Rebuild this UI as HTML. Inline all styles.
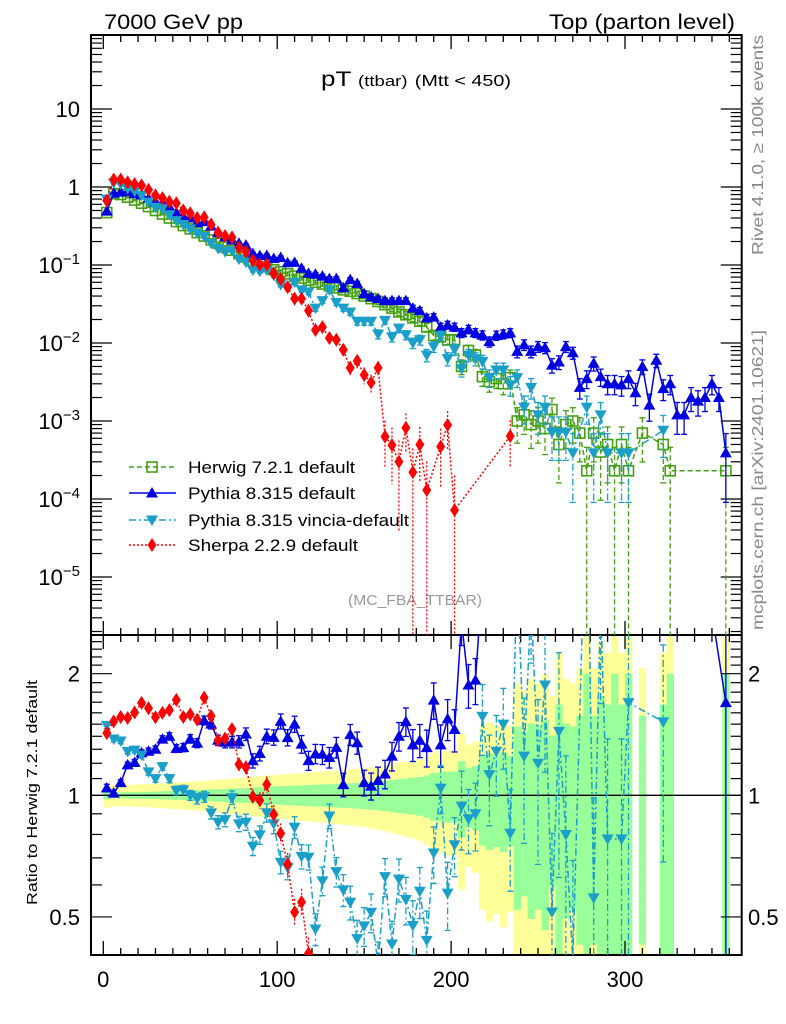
<!DOCTYPE html>
<html><head><meta charset="utf-8"><style>
html,body{margin:0;padding:0;background:#fff;overflow:hidden;width:786px;height:1024px;}
svg{display:block;font-family:"Liberation Sans",sans-serif;}
</style></head><body>
<svg id="chart" width="786" height="1024" viewBox="0 0 786 1024" xmlns="http://www.w3.org/2000/svg">
<defs>
<clipPath id="clipMain"><rect x="91" y="35" width="651" height="600"/></clipPath>
<clipPath id="clipRatio"><rect x="91" y="635" width="651" height="320"/></clipPath>
</defs>
<text x="104" y="29" font-size="21" textLength="139" lengthAdjust="spacingAndGlyphs">7000 GeV pp</text>
<text x="549" y="29" font-size="21" textLength="186" lengthAdjust="spacingAndGlyphs">Top (parton level)</text>
<text x="321" y="86" font-size="21" textLength="190" lengthAdjust="spacingAndGlyphs">pT <tspan font-size="15">(ttbar)</tspan> <tspan font-size="16">(Mtt &lt; 450)</tspan></text>
<text x="348" y="605" font-size="15" fill="#999" textLength="134" lengthAdjust="spacingAndGlyphs">(MC_FBA_TTBAR)</text>
<text transform="translate(763,255) rotate(-90)" font-size="16" fill="#888" textLength="220" lengthAdjust="spacingAndGlyphs">Rivet 4.1.0, ≥ 100k events</text>
<text transform="translate(763,630) rotate(-90)" font-size="16" fill="#888" textLength="300" lengthAdjust="spacingAndGlyphs">mcplots.cern.ch [arXiv:2401.10621]</text>
<text transform="translate(37,905) rotate(-90)" font-size="15" textLength="225" lengthAdjust="spacingAndGlyphs">Ratio to Herwig 7.2.1 default</text>
<g id="bands" clip-path="url(#clipRatio)"></g>
<g id="axes"></g>
<g id="mainData" clip-path="url(#clipMain)"></g>
<g id="ratioData" clip-path="url(#clipRatio)"></g>
<g id="legend"></g>
</svg>
<script>
// ---- data (4 GeV bins, 0..360) ----
const binWidth = 4;
const nBins = 90;
const herwig = [0.47,0.82,0.80,0.74,0.68,0.62,0.56,0.50,0.45,0.40,0.36,0.32,0.29,0.26,0.235,0.21,0.19,0.17,0.155,0.14,0.127,0.115,0.104,0.095,0.087,0.082,0.077,0.072,0.068,0.064,0.060,0.057,0.054,0.051,0.048,0.046,0.043,0.040,0.037,0.034,0.031,0.028,0.025,0.023,0.021,0.019,0.016,0.0125,0.012,0.011,0.011,0.005,0.008,0.007,0.0037,0.0032,0.0035,0.003,0.0036,0.001,0.0012,0.0009,0.001,0.0008,0.0014,0.0005,0.0009,0.001,0.0007,0.00023,0.0007,0.0004,0.0005,0.00023,0.0005,0.00023,0,0.0007,0,0,0.0005,0.00023,0,0,0,0,0,0,0,0.00023];
const pythia = [0.49,0.83,0.86,0.88,0.82,0.79,0.72,0.65,0.62,0.56,0.47,0.42,0.40,0.35,0.36,0.315,0.26,0.23,0.21,0.19,0.18,0.14,0.132,0.133,0.121,0.125,0.107,0.108,0.091,0.078,0.076,0.072,0.067,0.067,0.051,0.065,0.058,0.043,0.039,0.037,0.035,0.035,0.035,0.035,0.028,0.026,0.021,0.0215,0.016,0.017,0.016,0.0135,0.015,0.0135,0.0126,0.0104,0.0125,0.013,0.0135,0.0078,0.0095,0.0078,0.009,0.0087,0.0052,0.0057,0.009,0.0075,0.0027,0.0035,0.0055,0.0037,0.003,0.003,0.0029,0.0035,0.0023,0.005,0.0016,0.006,0.0026,0.003,0.0012,0.0012,0.002,0.0018,0.002,0.003,0.002,0.00039];
const vincia = [0.70,1.13,1.09,0.95,0.88,0.78,0.64,0.55,0.53,0.44,0.37,0.33,0.29,0.255,0.233,0.19,0.163,0.148,0.153,0.119,0.109,0.086,0.083,0.086,0.074,0.056,0.051,0.060,0.048,0.045,0.028,0.035,0.048,0.033,0.028,0.025,0.019,0.019,0.019,0.013,0.0195,0.012,0.0155,0.0127,0.010,0.011,0.007,0.009,0.0125,0.0063,0.0083,0.0047,0.007,0.0063,0.0058,0.0036,0.0045,0.0045,0.0029,0.0036,0.0015,0.0027,0.0012,0.0015,0.00072,0.00072,0.00072,0.00039,0,0.0015,0.00039,0.0012,0.00039,0,0.00039,0.00039,0,0,0,0,0.00076,0,0,0,0,0,0,0,0,0];
const sherpa = [0.67,1.25,1.25,1.15,1.09,1.05,0.92,0.78,0.72,0.65,0.62,0.50,0.46,0.40,0.41,0.33,0.26,0.235,0.226,0.167,0.149,0.114,0.101,0.101,0.078,0.066,0.052,0.037,0.037,0.026,0.0147,0.016,0.0116,0.011,0.0082,0.0048,0.0059,0.0039,0.0031,0.0048,0.00063,0.00049,0.0003,0.00082,0.00022,0.0005,0.00013,0,0.00047,0.00089,0.000072,0,0,0,0,0,0,0,0.00064,0,0,0,0,0,0,0,0,0,0,0,0,0,0,0,0,0,0,0,0,0,0,0,0,0,0,0,0,0,0,0];
const xTickLabels = [0,100,200,300];
const mainTickExps = [1,0,-1,-2,-3,-4,-5];
const ratioTickLabels = [2,1,0.5];
const kErr = 2.3e-4;
const yellowScale = 1.8, yellowOffset = 0.03;

// ---- axis functions ----
const X0 = 91, X1 = 741.7, MT = 35, MB = 635, RB = 955;
function xs(v){ return 103.3 + 1.739*v; }
function ym(v){ return Math.min(187 - 78*Math.log10(v), MB+40); }
function yr(r){ return Math.max(0, Math.min(795.3 - 404*Math.log10(r), RB+60)); }
function center(i){ return binWidth*(i+0.5); }
function relErr(v){ return Math.sqrt(kErr/v); }

const NS='http://www.w3.org/2000/svg';
function mk(tag, parent){ const e=document.createElementNS(NS,tag); parent.appendChild(e); return e; }
function line(p,x1,y1,x2,y2,stroke,w,dash){ const l=mk('line',p); l.setAttribute('x1',x1); l.setAttribute('y1',y1); l.setAttribute('x2',x2); l.setAttribute('y2',y2); l.setAttribute('stroke',stroke); l.setAttribute('stroke-width',w||1); if(dash) l.setAttribute('stroke-dasharray',dash); return l; }

// ---- bands ----
const bands = document.getElementById('bands');
for (let i=0;i<nBins;i++){
  if (!(herwig[i]>0)) continue;
  const e = relErr(herwig[i]);
  const xa = xs(binWidth*i), xb = xs(binWidth*(i+1));
  const eo = e*yellowScale + yellowOffset;
  const ry = mk('rect',bands);
  
  
  const yt = Math.max(yr(1+eo),MB), yb = (1-eo)>0.01 ? Math.min(yr(1-eo),RB) : RB;
  ry.setAttribute('x',xa); ry.setAttribute('width',xb-xa+0.3); ry.setAttribute('y',yt); ry.setAttribute('height',Math.max(0,yb-yt)); ry.setAttribute('fill','#ffff99');
}
for (let i=0;i<nBins;i++){
  if (!(herwig[i]>0)) continue;
  const e = relErr(herwig[i]);
  const xa = xs(binWidth*i), xb = xs(binWidth*(i+1));
  const rg = mk('rect',bands);
  
  
  const yt = Math.max(yr(1+e),MB), yb = (1-e)>0.01 ? Math.min(yr(1-e),RB) : RB;
  rg.setAttribute('x',xa); rg.setAttribute('width',xb-xa+0.3); rg.setAttribute('y',yt); rg.setAttribute('height',Math.max(0,yb-yt)); rg.setAttribute('fill','#99ff99');
}

// ---- axes ----
const axes = document.getElementById('axes');
const frameM = mk('rect',axes);


frameM.setAttribute('x',X0); frameM.setAttribute('y',MT); frameM.setAttribute('width',X1-X0); frameM.setAttribute('height',MB-MT); frameM.setAttribute('fill','none'); frameM.setAttribute('stroke','#000'); frameM.setAttribute('stroke-width','2');
const frameR = mk('rect',axes);


frameR.setAttribute('x',X0); frameR.setAttribute('y',MB); frameR.setAttribute('width',X1-X0); frameR.setAttribute('height',RB-MB); frameR.setAttribute('fill','none'); frameR.setAttribute('stroke','#000'); frameR.setAttribute('stroke-width','2');
const oneLine = line(axes,X0,yr(1),X1,yr(1),'#000',1.3);


for (let v=0; v<=360; v+=10){
  const x = xs(v), major = (v%100===0);
  const L = major?14:7;
  line(axes,x,RB,x,RB-L,'#000',1.3);
  line(axes,x,MB,x,MB-L,'#000',1.3);
  line(axes,x,MB,x,MB+L,'#000',1.3);
  line(axes,x,MT,x,MT+L,'#000',1.3);
}
xTickLabels.forEach(v=>{
  const t = mk('text',axes);
  
  
  t.setAttribute('x',xs(v)); t.setAttribute('y',987); t.setAttribute('font-size','22'); t.setAttribute('text-anchor','middle');
  t.textContent = String(v);
});
for (let e=-6; e<=1; e++){
  for (let m=1; m<=9; m++){
    const y = 187 - 78*Math.log10(m*Math.pow(10,e));
    if (y<MT || y>MB) continue;
    const L = m===1?21:11;
    line(axes,X0,y,X0+L,y,'#000',1.2);
    line(axes,X1,y,X1-L,y,'#000',1.2);
  }
}
mainTickExps.forEach(e=>{
  const t = mk('text',axes);
  
  
  t.setAttribute('x',80); t.setAttribute('y',ym(Math.pow(10,e))+8); t.setAttribute('font-size','22'); t.setAttribute('text-anchor','end');
  if (e===1) t.textContent='10';
  else if (e===0) t.textContent='1';
  else { t.textContent='10'; const s=mk('tspan',t); s.setAttribute('font-size','15'); s.setAttribute('dy','-9'); s.textContent='\u2212'+(-e); }
});
for (let r=0.4; r<=2.55; r+=0.1){
  const rr = Math.round(r*10)/10;
  const y = 795.3 - 404*Math.log10(rr);
  if (y<MB || y>RB) continue;
  const major = (rr===0.5||rr===1||rr===2);
  const L = major?21:11;
  line(axes,X0,y,X0+L,y,'#000',1.2);
  line(axes,X1,y,X1-L,y,'#000',1.2);
}
ratioTickLabels.forEach(r=>{
  const t = mk('text',axes);
  
  
  t.setAttribute('x',80); t.setAttribute('y',yr(r)+8); t.setAttribute('font-size','22'); t.setAttribute('text-anchor','end');
  t.textContent = String(r);
  const t2 = mk('text',axes);
  
  
  t2.setAttribute('x',748); t2.setAttribute('y',yr(r)+8); t2.setAttribute('font-size','22');
  t2.textContent = String(r);
});

// ---- series ----
const series = [
  {name:'herwig', vals:herwig, color:'#44a010', dash:'5,3', marker:'square', ratio:false},
  {name:'pythia', vals:pythia, color:'#0000e0', dash:null, marker:'up', ratio:true},
  {name:'vincia', vals:vincia, color:'#1a9fc9', dash:'7,3,2,3', marker:'down', ratio:true},
  {name:'sherpa', vals:sherpa, color:'#ff0000', dash:'2,2', marker:'diamond', ratio:true}
];
function marker(p,type,x,y,color){
  let m;
  if (type==='square'){
    m = mk('rect',p); m.setAttribute('x',x-5); m.setAttribute('y',y-5); m.setAttribute('width',10); m.setAttribute('height',10);
    m.setAttribute('fill','none'); m.setAttribute('stroke',color); m.setAttribute('stroke-width','1.6');
  } else {
    m = mk('polygon',p);
    let pts;
    if (type==='up') pts=[[x,y-6],[x-6,y+4.5],[x+6,y+4.5]];
    else if (type==='down') pts=[[x,y+6],[x-6,y-4.5],[x+6,y-4.5]];
    else pts=[[x,y-7],[x+4.5,y],[x,y+7],[x-4.5,y]];
    m.setAttribute('points',pts.map(a=>a.join(',')).join(' '));
    m.setAttribute('fill',color);
  }
  return m;
}
function drawSeries(group, s, getY, getVal, errFn, top, bottom){
  const pts=[];
  for (let i=0;i<nBins;i++){ const v=getVal(i); if (v>0) pts.push([i,v]); }
  pts.forEach(([i,v])=>{
    const e = errFn(i,v);
    const x = xs(center(i));
    const yt = Math.max(getY(v*(1+e)),top-2);
    const yb = (1-e)>0.001 ? Math.min(getY(v*(1-e)),bottom+2) : bottom+2;
    const b = line(group,x,yt,x,yb,s.color,1.3,s.dash);
    
    
    if (s.name!=='sherpa'){ line(group,x-3,yt,x+3,yt,s.color,1.3); if (yb<bottom) line(group,x-3,yb,x+3,yb,s.color,1.3); }
  });
  const pl = mk('polyline',group);
  
  
  pl.setAttribute('points',pts.map(([i,v])=>xs(center(i))+','+getY(v)).join(' '));
  pl.setAttribute('fill','none'); pl.setAttribute('stroke',s.color); pl.setAttribute('stroke-width','1.5');
  if (s.dash) pl.setAttribute('stroke-dasharray',s.dash);
  pts.forEach(([i,v])=>{
    const m = marker(group,s.marker,xs(center(i)),getY(v),s.color);
    
    
  });
}
const mainG = document.getElementById('mainData');
const ratioG = document.getElementById('ratioData');
series.forEach(s=>{
  const g = mk('g',mainG);
  
  
  drawSeries(g,s,ym,i=>s.vals[i],(i,v)=>relErr(v),MT,MB);
});
series.filter(s=>s.ratio).forEach(s=>{
  const g = mk('g',ratioG);
  
  
  drawSeries(g,s,yr,i=>(herwig[i]>0 && s.vals[i]>0)? s.vals[i]/herwig[i] : 0,(i,v)=>relErr(s.vals[i]),MB,RB);
});

// ---- legend ----
const legend = document.getElementById('legend');
const legendLabels = ['Herwig 7.2.1 default','Pythia 8.315 default','Pythia 8.315 vincia-default','Sherpa 2.2.9 default'];
const legendWidths = [167,167,221,170];
const legendY = [467,493,520,545];
series.forEach((s,k)=>{
  const g = mk('g',legend);
  
  
  line(g,129,legendY[k],176,legendY[k],s.color,1.5,s.dash);
  marker(g,s.marker,152,legendY[k],s.color);
  const t = mk('text',g);
  t.setAttribute('x',188); t.setAttribute('y',legendY[k]+6); t.setAttribute('font-size','17');
  t.setAttribute('textLength',legendWidths[k]); t.setAttribute('lengthAdjust','spacingAndGlyphs');
  t.textContent = legendLabels[k];
});
</script>
</body></html>
